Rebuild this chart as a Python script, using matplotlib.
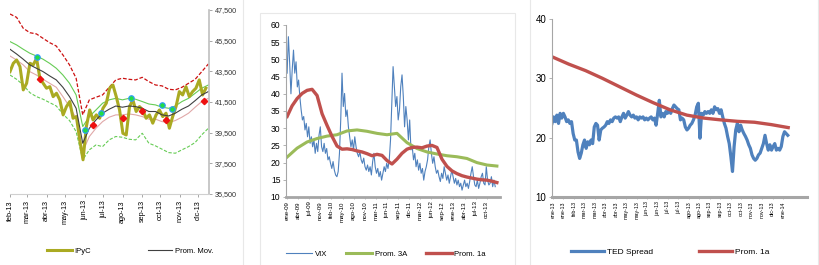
import matplotlib
matplotlib.use("Agg")
import matplotlib.pyplot as plt
from matplotlib.patches import Rectangle
import numpy as np
import pandas as pd

plt.rcParams['font.family'] = ['Liberation Sans', 'DejaVu Sans']

# ---- Panel 1: IPyC with moving average and bands (feb-13 .. dic-13)
ipyc = [43480, 44025, 44240, 43810, 42290, 42720, 44025, 43920, 44350, 43050,
        42720, 42400, 42500, 41850, 42070, 41640, 40660, 41200, 41530, 40440,
        40550, 39030, 37730, 39900, 40980, 40330, 40660, 40440, 41090, 41420,
        42400, 42610, 41850, 40980, 39460, 39350, 41200, 41640, 40880, 41200,
        40980, 40440, 40660, 40120, 40660, 40980, 40550, 40770, 39790, 40550,
        41200, 42180, 41960, 42500, 41850, 42180, 42400, 42940, 41960, 42400]
prom_mov = [44940, 44630, 44290, 43920, 43700, 43480, 43200, 42940, 42460, 41850,
            41090, 38810, 39790, 40330, 40770, 41030, 41240, 41160, 41240, 41200,
            41090, 40880, 40880, 40660, 40590, 40770, 41030, 41240, 41590, 41960,
            42180]
band_up = [45440, 45220, 44940, 44680, 44500, 44290, 44020, 43700, 43260, 42720,
           41960, 39900, 40550, 40980, 41420, 41640, 41740, 41640, 41740, 41680,
           41530, 41370, 41310, 41160, 41090, 41240, 41530, 41740, 42070, 42400,
           42610]
band_low = [44500, 44240, 43920, 43480, 43260, 42980, 42720, 42460, 41850, 41200,
            40440, 38270, 39250, 39790, 40220, 40510, 40660, 40660, 40720, 40660,
            40550, 40380, 40380, 40220, 40160, 40290, 40510, 40770, 41160, 41530,
            41740]
lim_up = [47240, 47020, 46310, 46020, 45940, 45650, 45370, 45150, 44570, 43920,
          43050, 40660, 41640, 41810, 41960, 42460, 42940, 43050, 42980, 42940,
          43110, 42830, 42610, 42550, 42330, 42290, 42460, 42720, 42980, 43480,
          43980]
lim_low = [43260, 42980, 42610, 42110, 41850, 41680, 41460, 41240, 40720, 40290,
           39570, 37730, 38380, 38700, 38590, 39030, 39250, 39200, 39070, 39030,
           39460, 38810, 38640, 38420, 38200, 38160, 38380, 38590, 38860, 39360,
           39790]
buy_dates = ["2013-03-17", "2013-06-02", "2013-06-28", "2013-08-15", "2013-10-03", "2013-10-19"]
buy_vals = [44420, 39680, 40810, 41740, 41290, 41070]
sell_dates = ["2013-03-21", "2013-06-14", "2013-08-01", "2013-09-01", "2013-10-10", "2013-12-10"]
sell_vals = [43000, 40010, 40440, 40920, 40330, 41570]
months1 = ["feb-13", "mar-13", "abr-13", "may-13", "jun-13", "jul-13",
           "ago-13", "sep-13", "oct-13", "nov-13", "dic-13"]

# ---- Panel 2: VIX
vix = [46, 56.6, 48.9, 40, 47, 52.7, 46, 49.3, 42, 44, 39, 35.3, 32.4, 33.4, 29.5,
       31.4, 27.5, 30.4, 25.6, 27.5, 24.6, 26.6, 22.7, 25.6, 23.2, 28.0, 30.4, 24.6,
       23.2, 25.6, 22.7, 24.1, 20.8, 21.7, 19.8, 18.3, 20.3, 17.8, 16.4, 15.9, 17.4,
       22.7, 32.4, 46, 36.3, 40.1, 33.4, 35.3, 30.4, 27.5, 24.6, 26.6, 23.7, 27.5,
       24.6, 22.7, 21.7, 23.2, 20.8, 19.8, 21.3, 18.8, 17.8, 19.3, 17.4, 18.8, 16.4,
       20.3, 22.7, 18.8, 16.9, 18.3, 15.9, 17.4, 14.9, 16.9, 18.8, 17.4, 19.8, 18.3,
       20.8, 26.6, 37.2, 47.9, 42.1, 36.3, 39.2, 32.4, 35.3, 42.1, 45.5, 39.2, 30.4,
       36.3, 32.4, 26.6, 32.4, 23.7, 24.6, 20.8, 22.7, 18.8, 20.8, 17.8, 19.8, 16.9,
       18.3, 14.9, 17.4, 18.8, 20.8, 24.6, 26.6, 22.7, 19.8, 21.7, 18.8, 16.9, 17.8,
       15.9, 14.5, 16.9, 15.4, 18.8, 16.9, 14.9, 16.4, 14.0, 15.9, 17.8, 15.9, 14.0,
       15.4, 13.5, 14.9, 13.0, 14.0, 12.0, 13.5, 14.9, 13.0, 14.0, 12.5, 14.5, 16.9,
       18.8, 15.9, 13.5, 13.0, 14.9, 12.5, 14.0, 15.9, 16.9, 14.0, 13.5, 18.8, 14.9,
       13.5, 14.0, 15.9, 13.0, 14.9, 13.0]
vix_3a = [21.6, 24.2, 26.0, 27.0, 27.7, 28.1, 29.2, 29.5, 29.1, 28.5, 28.1,
          28.5, 25.8, 24.1, 23.1, 22.5, 22.0, 21.7, 21.2, 20.0, 19.3, 19.0]
vix_1a = [33.4, 36.5, 38.6, 40.1, 41.0, 41.3, 39.5, 34.2, 30.8, 27.6, 24.8,
          23.9, 24.0, 23.8, 23.4, 23.1, 22.6, 22.0, 22.4, 22.1, 20.6, 19.6,
          21.0, 22.7, 23.9, 24.4, 24.5, 24.3, 24.8, 25.0, 24.4, 21.0, 18.9,
          17.6, 16.8, 16.2, 15.8, 15.5, 15.2, 15.0, 14.9, 14.6, 14.2]
labels2 = ["ene-09", "abr-09", "jul-09", "nov-09", "feb-10", "may-10", "ago-10",
           "nov-10", "mar-11", "jun-11", "sep-11", "dic-11", "mar-12", "jun-12",
           "sep-12", "ene-13", "abr-13", "jul-13", "oct-13"]

# ---- Panel 3: TED spread
ted = [22.4, 23.5, 22.7, 23.8, 22.4, 24.1, 23.3, 24.1, 23.5, 22.7, 23.0, 22.4, 22.7,
       20.7, 19.6, 19.6, 17.6, 16.5, 17.4, 18.8, 19.6, 18.2, 19.3, 18.8, 19.6, 19.0,
       21.8, 22.4, 22.1, 19.6, 21.3, 21.6, 21.8, 22.1, 22.7, 22.4, 23.0, 22.7, 23.3,
       23.5, 23.3, 23.5, 22.7, 23.5, 24.1, 23.3, 23.8, 24.4, 23.8, 23.5, 23.8, 23.3,
       23.5, 23.0, 23.5, 23.3, 23.5, 23.0, 23.3, 23.0, 23.3, 23.5, 23.0, 23.3, 22.1,
       24.1, 26.3, 23.5, 24.1, 23.5, 24.4, 24.1, 24.7, 24.1, 24.9, 25.5,
       25.2, 24.9, 24.7, 23.0, 23.3, 23.0, 21.8, 21.3, 21.6, 22.1, 22.4, 23.0, 23.8,
       25.2, 25.8, 19.9, 24.1, 23.8, 24.4, 24.1, 24.4, 24.1, 24.7, 24.1, 25.2, 24.7,
       24.9, 24.1, 24.7, 23.5, 22.4, 21.6, 20.2, 19.0, 16.8, 14.3, 18.5, 21.3, 22.4,
       21.0, 22.1, 21.3, 20.7, 20.2, 19.6, 18.8, 18.2, 17.1, 16.5, 16.2, 16.5, 17.1,
       17.4, 18.2, 19.0, 20.4, 19.0, 17.9, 18.8, 17.9, 18.5, 19.0, 17.9, 18.2, 17.9,
       18.5, 20.2, 21.0, 20.7, 20.4]
ted_1a = [33.65, 32.4, 31.3, 30.0, 28.6, 27.2, 25.9, 24.7, 23.8, 23.3, 23.0,
          22.75, 22.6, 22.2, 21.7]
labels3 = ["ene-13", "ene-13", "feb-13", "mar-13", "mar-13", "abr-13", "abr-13",
           "may-13", "may-13", "jun-13", "jun-13", "jul-13", "jul-13", "ago-13",
           "ago-13", "sep-13", "sep-13", "oct-13", "oct-13", "nov-13", "nov-13",
           "dic-13", "ene-14"]

BLUE = "#4f81bd"
RED = "#c0504d"
GREEN = "#9bbb59"
AXGREY = "#a6a6a6"

fig = plt.figure(figsize=(8.2, 2.65), dpi=100)

# light frames of the three pasted charts
for x0, y0, w, h in [(-0.01, -0.05, 251 / 820, 1.1), (260 / 820, -0.05, 255 / 820, 1 - 13 / 265 + 0.05),
                     (530 / 820, -0.05, 288 / 820, 1.1)]:
    fig.add_artist(Rectangle((x0, y0), w, h, transform=fig.transFigure,
                             fill=False, edgecolor="#e8e8e8", lw=0.8))

# ---------- panel 1
ax1 = fig.add_axes([10 / 820, 1 - 194 / 265, 199 / 820, 184 / 265])
d_ipyc = pd.date_range("2013-02-01", "2013-12-13", periods=len(ipyc))
d_smooth = pd.date_range("2013-02-01", "2013-12-17", periods=len(prom_mov))
ax1.plot(d_smooth, lim_up, color="#cc1111", lw=0.9, dashes=(3, 1.5))
ax1.plot(d_smooth, lim_low, color="#66cc55", lw=0.8, dashes=(3, 1.5))
ax1.plot(d_smooth, band_up, color="#66cc55", lw=0.8)
ax1.plot(d_smooth, band_low, color="#e0a8a8", lw=0.8)
ax1.plot(d_ipyc, ipyc, color="#aaaa22", lw=2.2, label="IPyC")
ax1.plot(d_smooth, prom_mov, color="#404040", lw=0.8, label="Prom. Mov.")
ax1.plot(pd.to_datetime(buy_dates), buy_vals, "o", ms=4, mfc="#22dd44", mec="#3399ff", mew=0.8)
ax1.plot(pd.to_datetime(sell_dates), sell_vals, "D", ms=3.2, mfc="#ee1111", mec="#ee1111")
ax1.set_xlim(pd.Timestamp("2013-02-01"), pd.Timestamp("2013-12-18"))
ax1.set_ylim(35500, 47500)
ax1.set_xticks(pd.date_range("2013-02-01", "2013-12-01", freq="MS"))
ax1.set_xticklabels(months1, rotation=90, fontsize=5.2)
yt1 = list(range(35500, 47501, 2000))
ax1.yaxis.tick_right()
ax1.set_yticks(yt1)
ax1.set_yticklabels([f"{v:,}" for v in yt1], fontsize=5.2, color="#333333")
for s in ["top", "left"]:
    ax1.spines[s].set_visible(False)
ax1.spines["right"].set_color("#bfbfbf")
ax1.spines["right"].set_linewidth(1.2)
ax1.spines["bottom"].set_color("#d0d0d0")
ax1.spines["bottom"].set_linewidth(0.8)
ax1.tick_params(axis="both", length=2.5, width=0.6, color="#999999", pad=2)
ax1.legend(loc="center", bbox_to_anchor=(130 / 820, 1 - 251 / 265), bbox_transform=fig.transFigure,
           ncol=2, frameon=False, fontsize=5.5, handlelength=3.2, handletextpad=0.3,
           columnspacing=7.5)

# ---------- panel 2
ax2 = fig.add_axes([286 / 820, 1 - 197 / 265, 214 / 820, 172 / 265])
ax2.plot(np.linspace(0, 18.77, len(vix)), vix, color=BLUE, lw=0.8, label="VIX")
ax2.plot(np.linspace(0, 18.92, len(vix_3a)), vix_3a, color=GREEN, lw=2.2, label="Prom. 3A")
ax2.plot(np.linspace(0, 18.92, len(vix_1a)), vix_1a, color=RED, lw=2.4, label="Prom. 1a")
ax2.set_xlim(-0.1, 19.2)
ax2.set_ylim(10, 60)
ax2.set_yticks(range(10, 61, 5))
ax2.tick_params(axis="y", labelsize=6.2, length=2, width=0.6, color=AXGREY, pad=2)
ax2.set_xticks(range(len(labels2)))
ax2.set_xticklabels(labels2, rotation=90, fontsize=4.4)
ax2.tick_params(axis="x", length=1.5, width=0.5, color=AXGREY, pad=1.5)
for s in ["top", "right"]:
    ax2.spines[s].set_visible(False)
ax2.spines["left"].set_color(AXGREY)
ax2.spines["left"].set_linewidth(0.8)
ax2.spines["bottom"].set_color(AXGREY)
ax2.spines["bottom"].set_linewidth(2.0)
ax2.legend(loc="center", bbox_to_anchor=(386 / 820, 1 - 254 / 265), bbox_transform=fig.transFigure,
           ncol=3, frameon=False, fontsize=5.6, handlelength=3.4, handletextpad=0.3,
           columnspacing=2.4)

# ---------- panel 3
ax3 = fig.add_axes([552 / 820, 1 - 197 / 265, 255 / 820, 178 / 265])
ax3.plot(np.linspace(-0.1, 22.46, len(ted)), ted, color=BLUE, lw=2.3, label="TED Spread")
ax3.plot(np.linspace(-0.12, 22.5, len(ted_1a)), ted_1a, color=RED, lw=2.4, label="Prom. 1a")
ax3.set_xlim(-0.1, 24.3)
ax3.set_ylim(10, 40)
ax3.set_yticks([10, 20, 30, 40])
ax3.tick_params(axis="y", labelsize=7, length=2, width=0.6, color=AXGREY, pad=2)
ax3.set_xticks(range(len(labels3)))
ax3.set_xticklabels(labels3, rotation=90, fontsize=3.8)
ax3.tick_params(axis="x", length=1.5, width=0.5, color=AXGREY, pad=1.5)
for s in ["top", "right"]:
    ax3.spines[s].set_visible(False)
ax3.spines["left"].set_color(AXGREY)
ax3.spines["left"].set_linewidth(0.8)
ax3.spines["bottom"].set_color(AXGREY)
ax3.spines["bottom"].set_linewidth(2.2)
ax3.legend(loc="center", bbox_to_anchor=(670 / 820, 1 - 252 / 265), bbox_transform=fig.transFigure,
           ncol=2, frameon=False, fontsize=6, handlelength=4.0, handletextpad=0.3,
           columnspacing=5.5)

fig.savefig("out.png", dpi=100)
